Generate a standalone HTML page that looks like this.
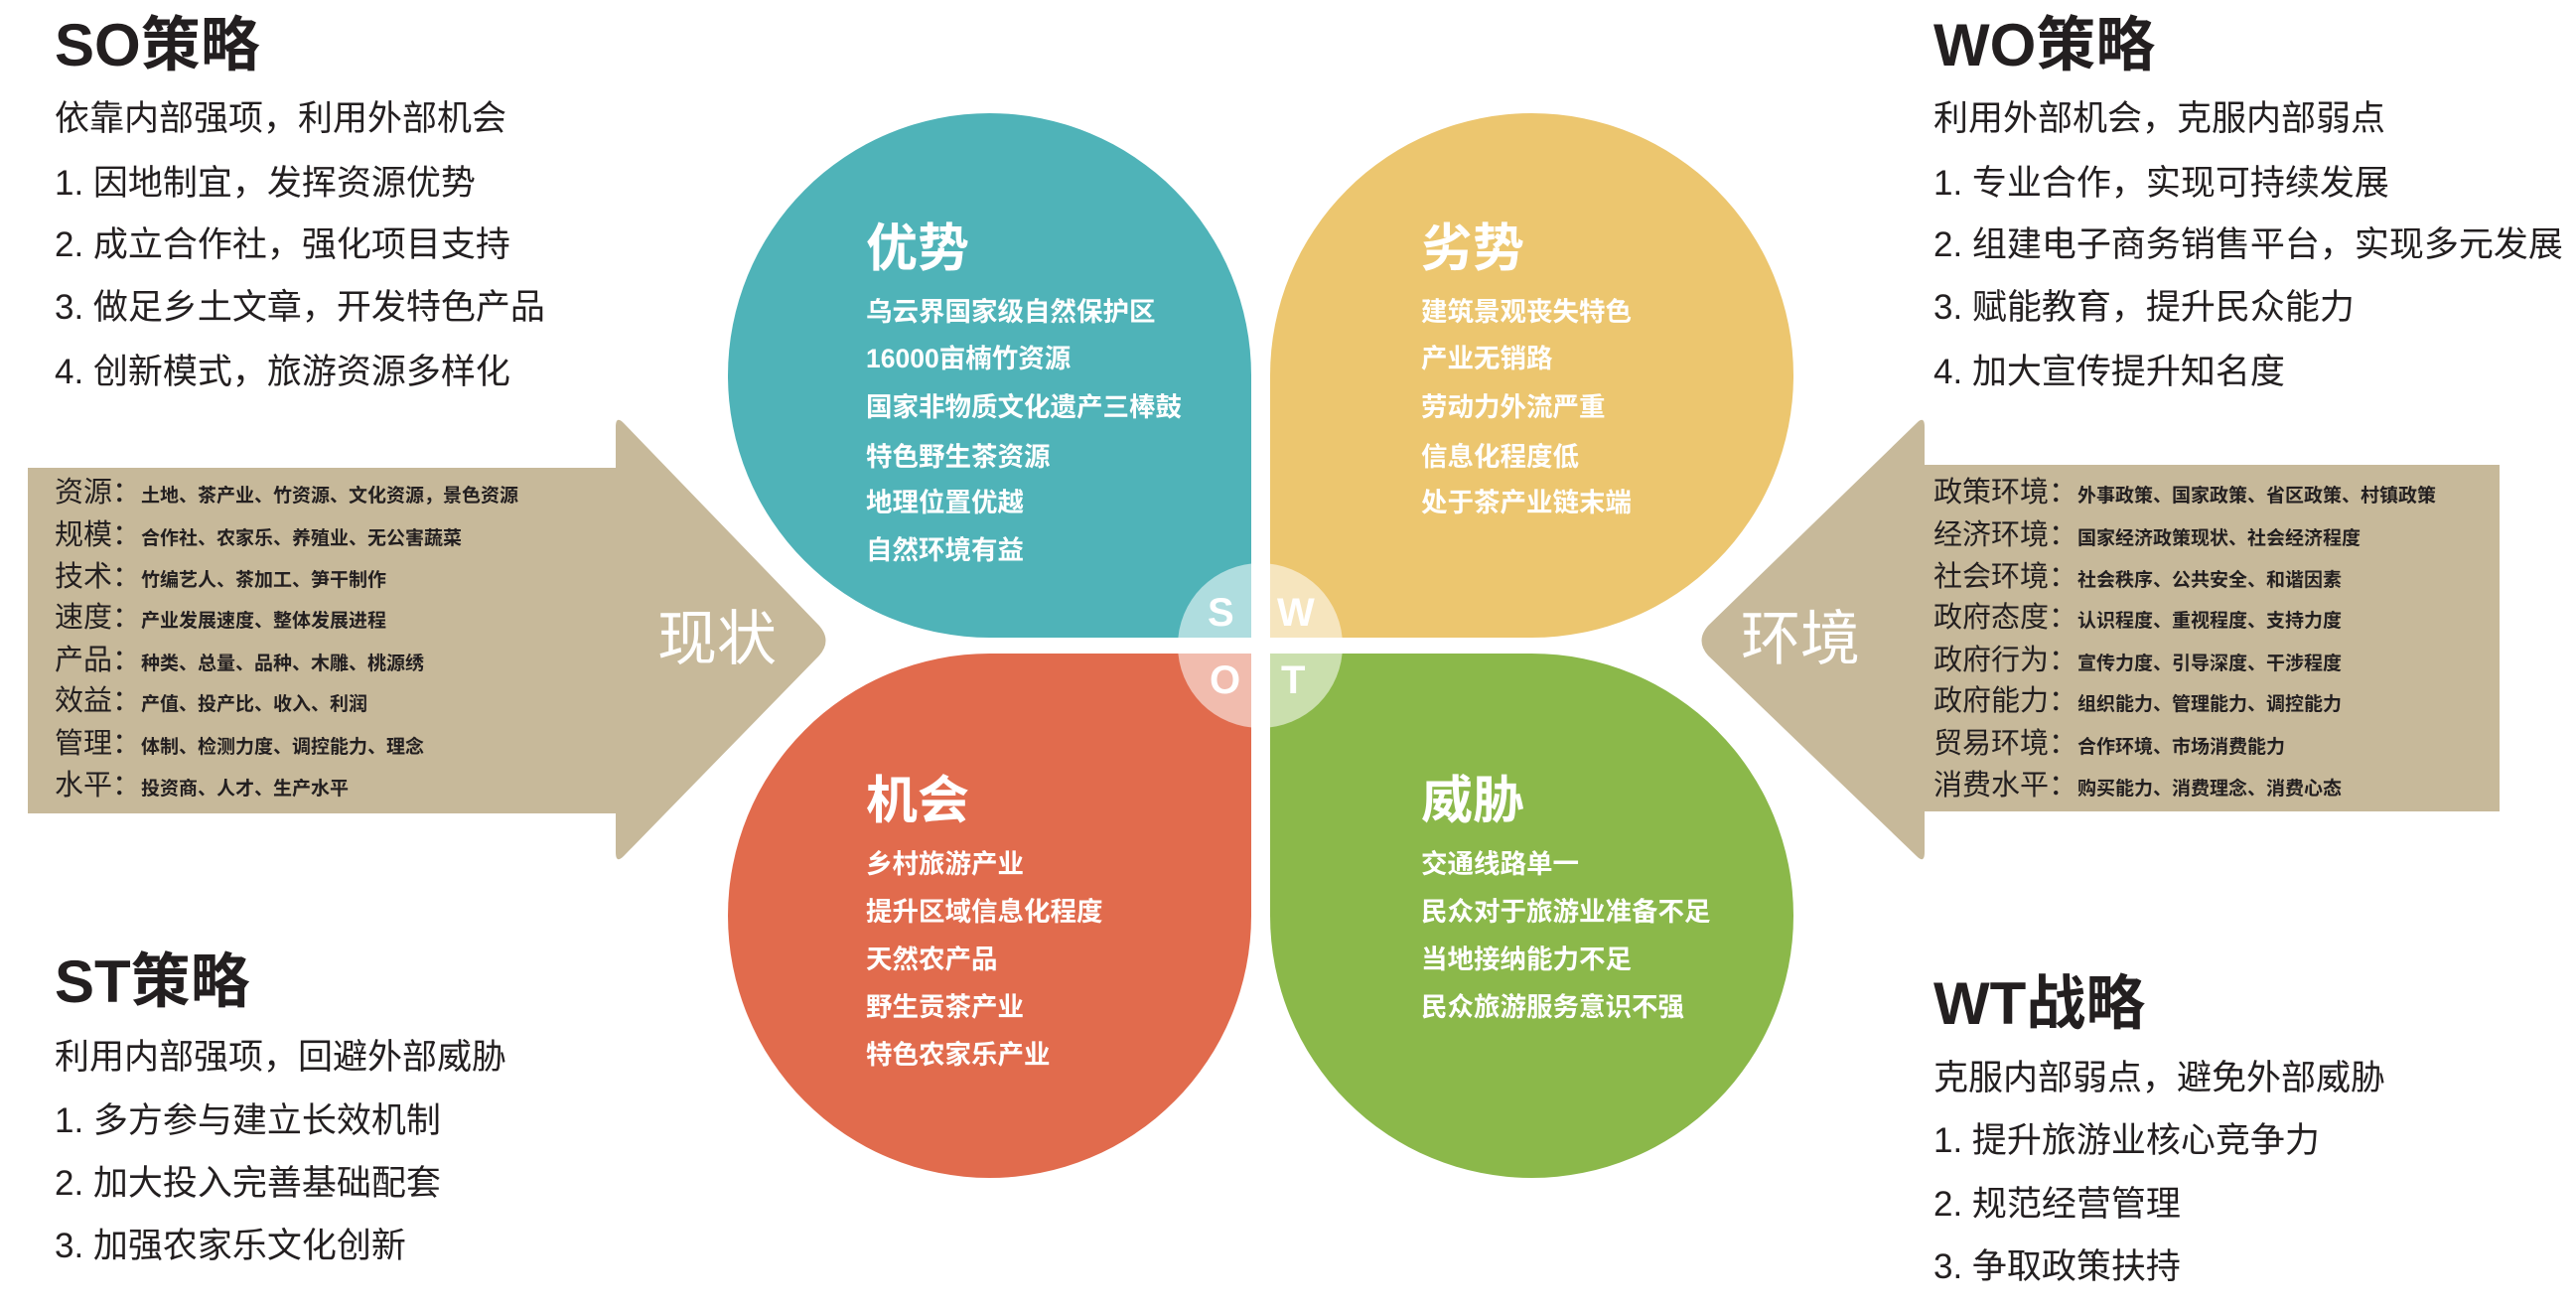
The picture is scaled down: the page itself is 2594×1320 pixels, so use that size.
<!DOCTYPE html>
<html><head><meta charset="utf-8"><style>
html,body{margin:0;padding:0;background:#fff;}
body{width:2594px;height:1320px;position:relative;overflow:hidden;font-family:"Liberation Sans","Noto Sans CJK SC",sans-serif;color:#231f20;}
.t{position:absolute;white-space:nowrap;line-height:1;}
.h{font-size:60px;font-weight:bold;}
.l{font-size:35px;}
.blob{position:absolute;width:527px;height:528px;}
.w{color:#fff;}
.bt{font-size:52px;font-weight:bold;}
.bi{font-size:26.5px;font-weight:bold;}
.al{font-size:29px;}
.ad{font-size:19px;font-weight:bold;}
.sw{font-size:40px;font-weight:bold;color:#fff;}
</style></head><body>

<svg width="2594" height="1320" style="position:absolute;left:0;top:0">
  <path d="M28 471 L620 471 L620 430 Q620 418 628 426 L825 630 Q838 645 825 660 L628 862 Q620 870 620 858 L620 819 L28 819 Z" fill="#c7b99a"/>
  <path d="M2517 468 L1938 468 L1938 430 Q1938 418 1930 426 L1720 630 Q1707 645 1720 660 L1930 862 Q1938 870 1938 858 L1938 817 L2517 817 Z" fill="#c7b99a"/>
</svg>

<div class="blob" style="left:733px;top:114px;background:#4fb3b8;border-radius:50% 50% 0 50%;"></div>
<div class="blob" style="left:1279px;top:114px;background:#ecc66f;border-radius:50% 50% 50% 0;"></div>
<div class="blob" style="left:733px;top:658px;background:#e16b4d;border-radius:50% 0 50% 50%;"></div>
<div class="blob" style="left:1279px;top:658px;background:#8bb84a;border-radius:0 50% 50% 50%;"></div>
<div style="position:absolute;left:1186px;top:567px;width:166px;height:166px;border-radius:50%;background:rgba(255,255,255,0.55);"></div>
<div style="position:absolute;left:1260px;top:100px;width:19px;height:1100px;background:#fff;"></div>
<div style="position:absolute;left:1180px;top:642px;width:180px;height:16px;background:#fff;"></div>
<div class="t sw" style="left:1216px;top:597px;">S</div>
<div class="t sw" style="left:1286px;top:597px;">W</div>
<div class="t sw" style="left:1218px;top:665px;">O</div>
<div class="t sw" style="left:1290px;top:665px;">T</div>

<div class="t w bt" style="left:872px;top:225px;">优势</div>
<div class="t w bi" style="left:872px;top:301px;">乌云界国家级自然保护区</div>
<div class="t w bi" style="left:872px;top:348px;">16000亩楠竹资源</div>
<div class="t w bi" style="left:872px;top:397px;">国家非物质文化遗产三棒鼓</div>
<div class="t w bi" style="left:872px;top:447px;">特色野生茶资源</div>
<div class="t w bi" style="left:872px;top:493px;">地理位置优越</div>
<div class="t w bi" style="left:872px;top:541px;">自然环境有益</div>

<div class="t w bt" style="left:1431px;top:225px;">劣势</div>
<div class="t w bi" style="left:1431px;top:301px;">建筑景观丧失特色</div>
<div class="t w bi" style="left:1431px;top:348px;">产业无销路</div>
<div class="t w bi" style="left:1431px;top:397px;">劳动力外流严重</div>
<div class="t w bi" style="left:1431px;top:447px;">信息化程度低</div>
<div class="t w bi" style="left:1431px;top:493px;">处于茶产业链末端</div>

<div class="t w bt" style="left:872px;top:781px;">机会</div>
<div class="t w bi" style="left:872px;top:857px;">乡村旅游产业</div>
<div class="t w bi" style="left:872px;top:905px;">提升区域信息化程度</div>
<div class="t w bi" style="left:872px;top:953px;">天然农产品</div>
<div class="t w bi" style="left:872px;top:1001px;">野生贡茶产业</div>
<div class="t w bi" style="left:872px;top:1049px;">特色农家乐产业</div>

<div class="t w bt" style="left:1431px;top:781px;">威胁</div>
<div class="t w bi" style="left:1431px;top:857px;">交通线路单一</div>
<div class="t w bi" style="left:1431px;top:905px;">民众对于旅游业准备不足</div>
<div class="t w bi" style="left:1431px;top:953px;">当地接纳能力不足</div>
<div class="t w bi" style="left:1431px;top:1001px;">民众旅游服务意识不强</div>

<div class="t w" style="left:662px;top:614px;font-size:60px;">现状</div>
<div class="t al" style="left:55px;top:482px;">资源：<span class="ad">土地、茶产业、竹资源、文化资源，景色资源</span></div>
<div class="t al" style="left:55px;top:525px;">规模：<span class="ad">合作社、农家乐、养殖业、无公害蔬菜</span></div>
<div class="t al" style="left:55px;top:567px;">技术：<span class="ad">竹编艺人、茶加工、笋干制作</span></div>
<div class="t al" style="left:55px;top:608px;">速度：<span class="ad">产业发展速度、整体发展进程</span></div>
<div class="t al" style="left:55px;top:651px;">产品：<span class="ad">种类、总量、品种、木雕、桃源绣</span></div>
<div class="t al" style="left:55px;top:692px;">效益：<span class="ad">产值、投产比、收入、利润</span></div>
<div class="t al" style="left:55px;top:735px;">管理：<span class="ad">体制、检测力度、调控能力、理念</span></div>
<div class="t al" style="left:55px;top:777px;">水平：<span class="ad">投资商、人才、生产水平</span></div>

<div class="t w" style="left:1753px;top:614px;font-size:60px;">环境</div>
<div class="t al" style="left:1947px;top:482px;">政策环境：<span class="ad">外事政策、国家政策、省区政策、村镇政策</span></div>
<div class="t al" style="left:1947px;top:525px;">经济环境：<span class="ad">国家经济政策现状、社会经济程度</span></div>
<div class="t al" style="left:1947px;top:567px;">社会环境：<span class="ad">社会秩序、公共安全、和谐因素</span></div>
<div class="t al" style="left:1947px;top:608px;">政府态度：<span class="ad">认识程度、重视程度、支持力度</span></div>
<div class="t al" style="left:1947px;top:651px;">政府行为：<span class="ad">宣传力度、引导深度、干涉程度</span></div>
<div class="t al" style="left:1947px;top:692px;">政府能力：<span class="ad">组织能力、管理能力、调控能力</span></div>
<div class="t al" style="left:1947px;top:735px;">贸易环境：<span class="ad">合作环境、市场消费能力</span></div>
<div class="t al" style="left:1947px;top:777px;">消费水平：<span class="ad">购买能力、消费理念、消费心态</span></div>

<div class="t h" style="left:55px;top:16px;">SO策略</div>
<div class="t l" style="left:55px;top:102px;">依靠内部强项，利用外部机会</div>
<div class="t l" style="left:55px;top:167px;">1. 因地制宜，发挥资源优势</div>
<div class="t l" style="left:55px;top:229px;">2. 成立合作社，强化项目支持</div>
<div class="t l" style="left:55px;top:292px;">3. 做足乡土文章，开发特色产品</div>
<div class="t l" style="left:55px;top:357px;">4. 创新模式，旅游资源多样化</div>

<div class="t h" style="left:1947px;top:16px;">WO策略</div>
<div class="t l" style="left:1947px;top:102px;">利用外部机会，克服内部弱点</div>
<div class="t l" style="left:1947px;top:167px;">1. 专业合作，实现可持续发展</div>
<div class="t l" style="left:1947px;top:229px;">2. 组建电子商务销售平台，实现多元发展</div>
<div class="t l" style="left:1947px;top:292px;">3. 赋能教育，提升民众能力</div>
<div class="t l" style="left:1947px;top:357px;">4. 加大宣传提升知名度</div>

<div class="t h" style="left:55px;top:959px;">ST策略</div>
<div class="t l" style="left:55px;top:1047px;">利用内部强项，回避外部威胁</div>
<div class="t l" style="left:55px;top:1111px;">1. 多方参与建立长效机制</div>
<div class="t l" style="left:55px;top:1174px;">2. 加大投入完善基础配套</div>
<div class="t l" style="left:55px;top:1237px;">3. 加强农家乐文化创新</div>

<div class="t h" style="left:1947px;top:981px;">WT战略</div>
<div class="t l" style="left:1947px;top:1068px;">克服内部弱点，避免外部威胁</div>
<div class="t l" style="left:1947px;top:1131px;">1. 提升旅游业核心竞争力</div>
<div class="t l" style="left:1947px;top:1195px;">2. 规范经营管理</div>
<div class="t l" style="left:1947px;top:1258px;">3. 争取政策扶持</div>
</body></html>
